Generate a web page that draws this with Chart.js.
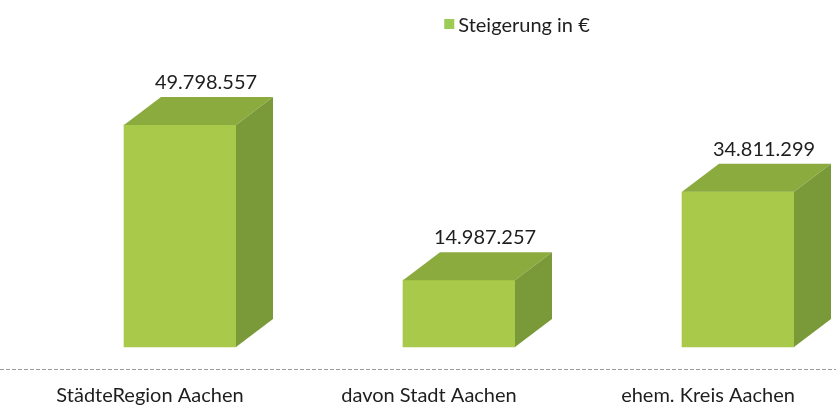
<!DOCTYPE html>
<html>
<head>
<meta charset="utf-8">
<script src="https://cdn.jsdelivr.net/npm/chart.js@4/dist/chart.umd.min.js"></script>
<style>
  html, body { margin: 0; padding: 0; background: #ffffff; }
  #c { display: block; }
</style>
</head>
<body>
<canvas id="c" width="836" height="408"></canvas>
<script>
const categories = ['StädteRegion Aachen', 'davon Stadt Aachen', 'ehem. Kreis Aachen'];
const seriesName = 'Steigerung in €';
const increaseValues = [49798557, 14987257, 34811299];

const FRONT = '#a9c94b';
const TOP = '#8cab3f';
const SIDE = '#7a9a39';
const FONT = 'Lato, "Open Sans", sans-serif';
const DX = 37, DY = 28;

function fmtDE(v) {
  return String(v).replace(/\B(?=(\d{3})+(?!\d))/g, '.');
}

const box3d = {
  id: 'box3d',
  afterDatasetsDraw(chart) {
    const ctx = chart.ctx;
    const meta = chart.getDatasetMeta(0);
    ctx.save();
    meta.data.forEach((bar, i) => {
      const p = bar.getProps(['x', 'y', 'base', 'width'], true);
      const L = p.x - p.width / 2, R = p.x + p.width / 2;
      ctx.fillStyle = TOP;
      ctx.beginPath();
      ctx.moveTo(L, p.y);
      ctx.lineTo(L + DX, p.y - DY);
      ctx.lineTo(R + DX, p.y - DY);
      ctx.lineTo(R, p.y);
      ctx.closePath();
      ctx.fill();
      ctx.fillStyle = SIDE;
      ctx.beginPath();
      ctx.moveTo(R, p.y);
      ctx.lineTo(R + DX, p.y - DY);
      ctx.lineTo(R + DX, p.base - DY);
      ctx.lineTo(R, p.base);
      ctx.closePath();
      ctx.fill();
      ctx.fillStyle = '#1e1e1e';
      ctx.font = '20px ' + FONT;
      ctx.textAlign = 'center';
      ctx.textBaseline = 'alphabetic';
      ctx.fillText(fmtDE(chart.data.datasets[0].data[i]), p.x + 26, p.y - 36);
    });
    // dashed gray axis line across the full width
    const yScale = chart.scales.y;
    const yl = Math.round(yScale.getPixelForValue(0) + 22) + 0.5;
    ctx.strokeStyle = '#9c9c9c';
    ctx.lineWidth = 1;
    ctx.setLineDash([4, 2]);
    ctx.beginPath();
    ctx.moveTo(0, yl);
    ctx.lineTo(chart.width, yl);
    ctx.stroke();
    ctx.setLineDash([]);
    // legend
    const ds = chart.data.datasets[0];
    ctx.font = '20px ' + FONT;
    ctx.textAlign = 'left';
    const tw = ctx.measureText(ds.label).width;
    const total = 10 + 4 + tw;
    const lx = 517 - total / 2;
    ctx.fillStyle = '#9ccc55';
    ctx.fillRect(lx, 19, 10, 10);
    ctx.fillStyle = '#1e1e1e';
    ctx.fillText(ds.label, lx + 14, 32);
    ctx.restore();
  }
};

new Chart(document.getElementById('c'), {
  type: 'bar',
  data: {
    labels: categories,
    datasets: [{
      label: seriesName,
      data: increaseValues,
      backgroundColor: FRONT,
      borderWidth: 0,
      barThickness: 112,
      clip: false
    }]
  },
  options: {
    responsive: false,
    devicePixelRatio: 1,
    animation: false,
    layout: { padding: { left: 180, right: 98, top: 79.4, bottom: 0 } },
    plugins: {
      legend: { display: false },
      tooltip: { enabled: false }
    },
    scales: {
      x: {
        offset: false,
        grid: { display: false, drawTicks: false },
        border: { display: false },
        ticks: {
          labelOffset: -30,
          padding: 37,
          autoSkip: false,
          maxRotation: 0,
          color: '#1e1e1e',
          font: { family: FONT, size: 20 }
        },
        afterFit(scale) {
          scale.height = 61;
          scale.paddingLeft = 0;
          scale.paddingRight = 0;
        }
      },
      y: {
        display: false,
        min: 0,
        max: 60000000
      }
    }
  },
  plugins: [box3d]
});
</script>
</body>
</html>
